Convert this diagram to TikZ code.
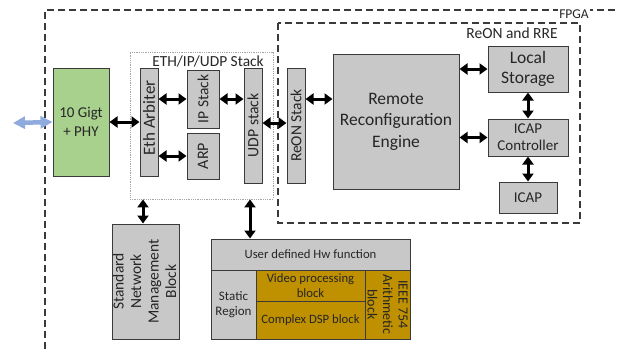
\documentclass[tikz,border=0pt]{standalone}
\usepackage{fontspec}
\setmainfont{Carlito}
\usetikzlibrary{arrows.meta}
\definecolor{boxgray}{HTML}{C8C8C8}
\definecolor{phygreen}{HTML}{A9D18E}
\definecolor{gold}{HTML}{BF9000}
\definecolor{edge}{HTML}{3A3A3A}
\definecolor{txt}{HTML}{262626}
\definecolor{bluearrow}{HTML}{8FAADC}
\definecolor{dotgray}{HTML}{A6A6A6}
\begin{document}
\begin{tikzpicture}[x=1pt,y=-1pt,
  box/.style={draw=edge, line width=1pt, fill=boxgray, inner sep=0pt, text=txt},
  lbl/.style={inner sep=0pt, text=txt, align=center},
  arr/.style={{Triangle[length=8pt,width=11pt]}-{Triangle[length=8pt,width=11pt]}, line width=3pt, black},
  bluearr/.style={{Triangle[length=12pt,width=12pt]}-{Triangle[length=12pt,width=12pt]}, line width=4.5pt, bluearrow},
  outerdash/.style={draw=edge, line width=1.2pt, dash pattern=on 7pt off 4pt},
  dotbox/.style={draw=dotgray, line width=0.8pt, densely dotted}]
\useasboundingbox (0,0) rectangle (619,349);

% FPGA boundary
\draw[outerdash] (45,349) -- (45,10) -- (619,10);
\node[lbl, fill=white, inner sep=1pt, font=\fontsize{13.5}{15}\selectfont] (fpgaT) at (574,14) {FPGA};

% ReON and RRE box
\draw[outerdash] (278,23) rectangle (580,223);
\node[lbl, font=\fontsize{15.5}{17}\selectfont] (reonrreT) at (512,33) {ReON and RRE};

% ETH/IP/UDP stack box
\node[dotbox, minimum width=143pt, minimum height=147pt, inner sep=0pt] (stack) at (201.5,125.5) {};
\node[lbl, font=\fontsize{15.4}{17}\selectfont] (stackT) at (208,61) {ETH/IP/UDP Stack};

% PHY
\node[box, fill=phygreen, minimum width=56pt, minimum height=108pt] (phy) at (81,122) {};
\node[lbl, font=\fontsize{15}{19}\selectfont] (phyT) at (81,122) {10 Gigt\\+ PHY};

% Stack elements
\node[box, minimum width=18pt, minimum height=108pt] (eth) at (149,122) {};
\node[lbl, rotate=90, font=\fontsize{17}{18}\selectfont] (ethT) at (149,118) {Eth Arbiter};
\node[box, minimum width=32pt, minimum height=58pt] (ip) at (203,99) {};
\node[lbl, rotate=90, font=\fontsize{15.5}{18}\selectfont] (ipT) at (ip) {IP Stack};
\node[box, minimum width=32pt, minimum height=46pt] (arp) at (203,156) {};
\node[lbl, rotate=90, font=\fontsize{16}{18}\selectfont] (arpT) at (arp) {ARP};
\node[box, minimum width=18pt, minimum height=115pt] (udp) at (253,125.5) {};
\node[lbl, rotate=90, font=\fontsize{15.7}{18}\selectfont] (udpT) at (udp) {UDP stack};
\node[box, minimum width=18pt, minimum height=115pt] (reon) at (296,125.5) {};
\node[lbl, rotate=90, font=\fontsize{15.5}{18}\selectfont] (reonT) at (reon) {ReON Stack};

% RRE side
\node[box, minimum width=126pt, minimum height=135pt] (rre) at (396,121.5) {};
\node[lbl, font=\fontsize{17.5}{21.5}\selectfont] (rreT) at (rre) {Remote\\Reconfiguration\\Engine};
\node[box, minimum width=80pt, minimum height=46pt] (ls) at (528,69) {};
\node[lbl, font=\fontsize{17.5}{20}\selectfont] (lsT) at (ls) {Local\\Storage};
\node[box, minimum width=80pt, minimum height=37pt] (icc) at (528,137.5) {};
\node[lbl, font=\fontsize{15}{17}\selectfont] (iccT) at (icc) {ICAP\\Controller};
\node[box, minimum width=58pt, minimum height=31pt] (icap) at (528,197.5) {};
\node[lbl, font=\fontsize{15}{17}\selectfont] (icapT) at (icap) {ICAP};

% Bottom blocks
\node[box, minimum width=67pt, minimum height=115pt] (snm) at (145.5,281.5) {};
\node[lbl, rotate=90, font=\fontsize{15.5}{17.5}\selectfont] (snmT) at (144.5,281.5) {Standard\\Network\\Management\\Block};
\node[box, minimum width=199pt, minimum height=31pt] (udh) at (310.5,254.5) {};
\node[lbl, font=\fontsize{12.7}{15}\selectfont] (udhT) at (udh) {User defined Hw function};
\node[box, minimum width=45pt, minimum height=69pt] (static) at (233.5,304.5) {};
\node[lbl, font=\fontsize{13}{15}\selectfont] (staticT) at (static) {Static\\Region};
\node[box, fill=gold, minimum width=109pt, minimum height=31pt] (video) at (310.5,285.5) {};
\node[lbl, font=\fontsize{12.7}{15}\selectfont] (videoT) at (video) {Video processing\\block};
\node[box, fill=gold, minimum width=109pt, minimum height=38pt] (dsp) at (310.5,320) {};
\node[lbl, font=\fontsize{12.7}{15}\selectfont] (dspT) at (dsp) {Complex DSP block};
\node[box, fill=gold, minimum width=45pt, minimum height=69pt] (ieee) at (387.5,304.5) {};
\node[lbl, rotate=-90, font=\fontsize{14}{15.5}\selectfont] (ieeeT) at (ieee) {IEEE 754\\Arithmetic\\block};

% Arrows
\coordinate (ext) at (13,123);
\draw[bluearr] (ext) -- (phy.west);
\draw[arr] (phy.east) -- (eth.west |- phy.east);
\draw[arr] (eth.east |- ip.west) -- (ip.west);
\draw[arr] (eth.east |- arp.west) -- (arp.west);
\draw[arr] (ip.east) -- (udp.west |- ip.east);
\draw[arr] ([yshift=2.5pt]udp.east) -- ([yshift=2.5pt]reon.west);
\draw[arr] (reon.east |- ip.east) -- (rre.west |- ip.east);
\draw[arr] (rre.east |- ls.west) -- (ls.west);
\draw[arr] (rre.east |- icc.west) -- (icc.west);
\draw[arr] (ls.south) -- (icc.north);
\draw[arr] (icc.south) -- (icap.north);
\draw[arr] ([xshift=-2.5pt]snm.north |- stack.south) -- ([xshift=-2.5pt]snm.north);
\draw[arr] ([xshift=-3pt]udp.south |- stack.south) -- ([xshift=-3pt]udp.south |- udh.north);
\end{tikzpicture}
\end{document}
